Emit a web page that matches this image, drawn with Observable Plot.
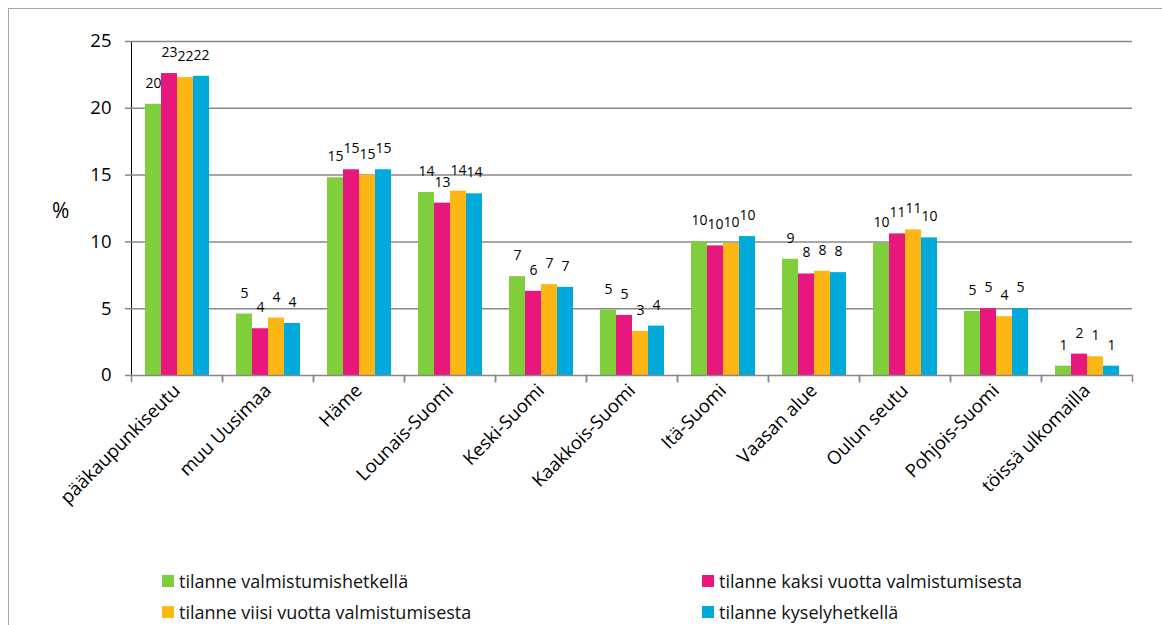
<!DOCTYPE html>
<html><head><meta charset="utf-8">
<script src="https://cdn.jsdelivr.net/npm/d3@7"></script>
<script src="https://cdn.jsdelivr.net/npm/@observablehq/plot@0.6"></script>
<style>
body{margin:0;background:#fff;font-family:"Open Sans",Lato,sans-serif;}
#wrap{position:relative;width:1162px;height:625px;overflow:hidden;}
#border{position:absolute;left:8px;top:8px;width:1300px;height:700px;border-left:1.5px solid #a6a6a6;border-top:1.5px solid #a6a6a6;}
#chart{position:absolute;left:0;top:0;}
#pct{position:absolute;left:52px;top:196px;font-size:21px;color:#000;}
#legend{position:absolute;left:162px;top:565px;display:grid;grid-template-columns:540px auto;grid-auto-rows:31px;font-size:18px;line-height:22px;color:#111;}
#legend div{display:flex;align-items:center;}
#legend span.sw{display:inline-block;width:12px;height:12px;margin-right:5px;}
svg g[aria-label^="y-axis"] path, svg g[aria-label^="y-axis"] line{stroke:#888;stroke-width:1.5px;}
</style>
</head><body>
<div id="wrap"><div id="border"></div><div id="chart"></div><div id="pct">%</div><div id="legend"></div></div>
<script>
const categories = ["pääkaupunkiseutu","muu Uusimaa","Häme","Lounais-Suomi","Keski-Suomi","Kaakkois-Suomi","Itä-Suomi","Vaasan alue","Oulun seutu","Pohjois-Suomi","töissä ulkomailla"];
const seriesNames = ["tilanne valmistumishetkellä","tilanne kaksi vuotta valmistumisesta","tilanne viisi vuotta valmistumisesta","tilanne kyselyhetkellä"];
const seriesColors = ["#7fcf3d","#e8177d","#fdb614","#00abdb"];
const valmistumishetkella = [20.3,4.6,14.8,13.7,7.4,4.9,10.0,8.7,9.9,4.8,0.7];
const kaksiVuotta       = [22.6,3.5,15.4,12.9,6.3,4.5,9.7,7.6,10.6,5.0,1.6];
const viisiVuotta       = [22.3,4.3,15.0,13.8,6.8,3.3,9.9,7.8,10.9,4.4,1.4];
const kyselyhetkella    = [22.4,3.9,15.4,13.6,6.6,3.7,10.4,7.7,10.3,5.0,0.7];
const yTicks = [0,5,10,15,20,25];

const seriesValues = [valmistumishetkella,kaksiVuotta,viisiVuotta,kyselyhetkella];
const data = categories.flatMap((c,i)=>seriesNames.map((s,j)=>({category:c,series:s,value:seriesValues[j][i]})));

const gridColor = "#888";
const plot = Plot.plot({
  width:1162, height:530,
  marginLeft:128, marginRight:27, marginTop:41, marginBottom:155,
  style:{fontFamily:'"Open Sans",Lato,sans-serif', fontSize:"18.5px", color:"#000", background:"transparent"},
  fx:{domain:categories, padding:0, label:null, tickRotate:-45, tickSize:0, tickPadding:12},
  x:{domain:seriesNames, paddingInner:0, paddingOuter:0.755, axis:null},
  y:{domain:[0,25], ticks:yTicks, label:null, tickSize:6, tickPadding:14, line:true},
  color:{domain:seriesNames, range:seriesColors},
  marks:[
    Plot.ruleY(yTicks.filter(t=>t>0), {stroke:gridColor, strokeWidth:1.5}),
    Plot.barY(data, {fx:"category", x:"series", y:"value", fill:"series"}),
    Plot.ruleY([0], {stroke:gridColor, strokeWidth:1.5}),
    Plot.frame({anchor:"left", stroke:gridColor, strokeWidth:1.5, insetTop:334, insetBottom:-6}),
    Plot.frame({anchor:"right", stroke:gridColor, strokeWidth:1.5, insetTop:334, insetBottom:-6}),
    Plot.text(data, {fx:"category", x:"series", y:"value", text:d=>String(Math.round(d.value)), dy:-21, fontSize:14, fill:"#000"})
  ]
});
document.getElementById("chart").appendChild(plot);

const legend = document.getElementById("legend");
[0,1,2,3].forEach(j=>{
  const d = document.createElement("div");
  d.innerHTML = `<span class="sw" style="background:${seriesColors[j]}"></span>${seriesNames[j]}`;
  legend.appendChild(d);
});
</script>
</body></html>
